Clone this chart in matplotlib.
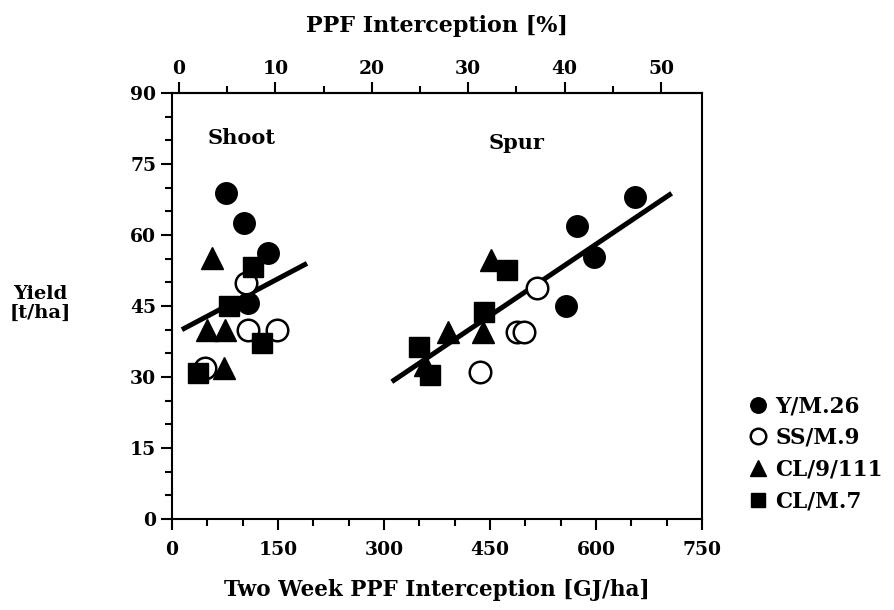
import numpy as np
import matplotlib
matplotlib.use('Agg')
import matplotlib.pyplot as plt
from matplotlib.ticker import MultipleLocator

plt.rcParams['font.family'] = ['DejaVu Serif']
plt.rcParams['font.weight'] = 'bold'

# Two week PPF interception [GJ/ha] and yield [t/ha] per scion/rootstock
y_m26_x = [77, 102, 136, 108, 655, 573, 597, 558]
y_m26_y = [68.8, 62.6, 56.1, 45.7, 68.0, 61.8, 55.4, 44.9]
ss_m9_x = [105, 108, 148, 47, 516, 488, 498, 436]
ss_m9_y = [49.8, 40, 40, 31.8, 48.7, 39.6, 39.6, 31.1]
cl9111_x = [56, 49, 75, 73, 452, 440, 391, 358]
cl9111_y = [55.1, 40, 40, 31.8, 54.7, 39.6, 39.6, 32.5]
cl_m7_x = [115, 81, 127, 37, 474, 441, 349, 365]
cl_m7_y = [53.3, 44.9, 37.1, 30.8, 52.6, 43.8, 36.4, 30.4]

# regression lines
shoot_x = [14, 191]
shoot_y = [40.0, 54.0]
spur_x = [311, 707]
spur_y = [29.0, 68.8]

labels = ['Y/M.26', 'SS/M.9', 'CL/9/111', 'CL/M.7']

fig = plt.figure(figsize=(8.95, 6.10), dpi=100)
ax = fig.add_axes([0.1922, 0.1492, 0.5922, 0.6984])

ax.plot(shoot_x, shoot_y, color='black', lw=3.6, solid_capstyle='butt', zorder=2)
ax.plot(spur_x, spur_y, color='black', lw=3.6, solid_capstyle='butt', zorder=2)

ms = 15.5
h1, = ax.plot(y_m26_x, y_m26_y, 'o', color='black', ms=ms, ls='none', zorder=3)
h2, = ax.plot(ss_m9_x, ss_m9_y, 'o', mfc='white', mec='black', mew=1.8, ms=ms, ls='none', zorder=3)
h3, = ax.plot(cl9111_x, cl9111_y, '^', color='black', ms=ms, ls='none', zorder=3)
h4, = ax.plot(cl_m7_x, cl_m7_y, 's', color='black', ms=ms - 1, ls='none', zorder=3)

ax.set_xlim(0, 750)
ax.set_ylim(0, 90)
ax.xaxis.set_major_locator(MultipleLocator(150))
ax.xaxis.set_minor_locator(MultipleLocator(50))
ax.yaxis.set_major_locator(MultipleLocator(15))
ax.yaxis.set_minor_locator(MultipleLocator(5))
ax.tick_params(which='both', direction='out', width=1.5, labelsize=13.5, right=False, top=False)
ax.tick_params(which='major', length=8)
ax.tick_params(which='minor', length=5)
ax.tick_params(axis='x', which='major', pad=8)
for s in ax.spines.values():
    s.set_linewidth(1.5)

def to_pct(x):
    return (np.asarray(x) - 10) * 50 / 682

def to_gj(p):
    return np.asarray(p) * 682 / 50 + 10

top = ax.secondary_xaxis('top', functions=(to_pct, to_gj))
top.xaxis.set_major_locator(MultipleLocator(10))
top.xaxis.set_minor_locator(MultipleLocator(5))
top.tick_params(which='both', direction='out', width=1.5, labelsize=13.5)
top.tick_params(which='major', length=8, pad=3)
top.tick_params(which='minor', length=5)
top.spines['top'].set_linewidth(1.5)
top.set_xlabel('PPF Interception [%]', fontsize=16, fontweight='bold', labelpad=20)

ax.set_xlabel('Two Week PPF Interception [GJ/ha]', fontsize=15.5, fontweight='bold', labelpad=14)
fig.text(0.045, 0.503, 'Yield\n[t/ha]', fontsize=14, fontweight='bold', ha='center', va='center',
         linespacing=1.05)

ax.text(99, 80.5, 'Shoot', fontsize=15, fontweight='bold', ha='center', va='center')
ax.text(488, 79.5, 'Spur', fontsize=15, fontweight='bold', ha='center', va='center')

fig.legend([h1, h2, h3, h4], labels, loc='upper left', bbox_to_anchor=(0.835, 0.352),
           frameon=False, fontsize=15.5, handletextpad=0.3, labelspacing=0.45,
           markerscale=0.72, handlelength=1.0, borderaxespad=0, borderpad=0)

fig.savefig('out.png', dpi=100)
